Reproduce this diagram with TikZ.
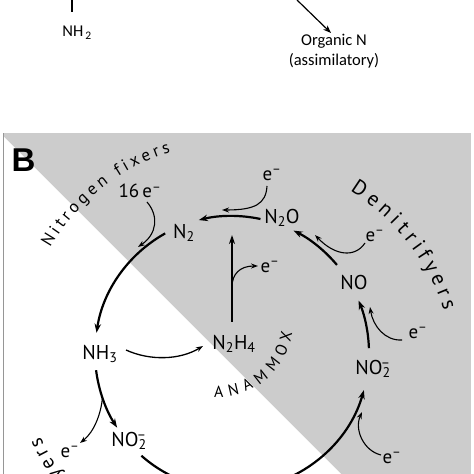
\documentclass[tikz,border=0pt]{standalone}
\usepackage{fontspec}
\setmainfont{PT Sans}
\newfontfamily\topfont{Carlito}
\newfontfamily\bfont{Liberation Sans}
\usetikzlibrary{arrows.meta,decorations.text,calc}
\definecolor{panelgray}{RGB}{204,204,204}
\definecolor{edgegray}{RGB}{150,150,150}
\newcommand{\nomi}{NO\textsubscript{2}\llap{\textsuperscript{–}}}
\newcommand{\elec}{e\textsuperscript{–}}
\begin{document}
\begin{tikzpicture}[x=1pt,y=1pt,
  species/.style={font=\fontsize{20}{22}\selectfont, inner sep=0pt},
  elab/.style={font=\fontsize{19}{21}\selectfont, inner sep=0pt},
  toplab/.style={font=\topfont\fontsize{16.5}{20}\selectfont, inner sep=0pt, align=center},
  cyc/.style={line width=2.2pt, -{Stealth[length=9pt,width=6.5pt]}},
  cycplain/.style={line width=2.2pt},
  eflow/.style={line width=1.1pt, -{Stealth[length=7pt,width=5pt]}},
  midflow/.style={line width=1.3pt, -{Stealth[length=7pt,width=5pt]}},
  vflow/.style={line width=1.8pt, -{Stealth[length=9pt,width=6pt]}}]

\useasboundingbox (0,0) rectangle (474,474);
\clip (0,0) rectangle (474,474);
\fill[white] (0,0) rectangle (474,474);

% ---------- top fragment ----------
\coordinate (nhtop) at (72,474);
\node[toplab] (nh2) at (77,441) {NH\kern2pt\textsubscript{2}};
\draw[line width=1.3pt] (nhtop) -- ($(nhtop)+(0,-12)$);
\node[toplab] (org) at (334,423) {Organic N\\(assimilatory)};
\coordinate (orgsrc) at (297,474);
\coordinate (orgtip) at (331,441);
\draw[line width=1.2pt, -{Stealth[length=8pt,width=6pt]}] (orgsrc) -- (orgtip);

% ---------- panel B background ----------
\fill[panelgray] (3,0) rectangle (471,341);
\fill[white] (3,338) -- (3,0) -- (341,0) -- cycle;
\draw[edgegray, line width=1pt] (3,0) -- (3,341);

\node[font=\bfont\bfseries\fontsize{33}{33}\selectfont, inner sep=0pt] (blabel) at (23.5,314) {B};

\coordinate (C) at (232,121);

% ---------- species ----------
\node[species] (n2)   at (184,241) {N\textsubscript{2}};
\node[species] (n2o)  at (282,256) {N\textsubscript{2}O};
\node[species] (no)   at (354,191) {NO};
\node[species] (no2r) at (373,105) {\nomi};
\node[species] (nh3)  at (100,120) {NH\textsubscript{3}};
\node[species] (n2h4) at (234,130) {N\textsubscript{2}H\textsubscript{4}};
\node[species] (no2l) at (129,33)  {\nomi};

% ---------- electrons ----------
\node[elab] (e16)  at (140,283) {16\,\elec};
\node[elab] (eA)   at (272,299) {\elec};
\node[elab] (eB)   at (270,207) {\elec};
\node[elab] (eC)   at (375,238) {\elec};
\node[elab] (eD)   at (418,141) {\elec};
\node[elab] (eE)   at (392,16)  {\elec};
\node[elab] (eF)   at (70,22)   {\elec};

% ---------- main cycle arcs ----------
\coordinate (a1) at ($(C)+(119.2:137)$);
\draw[cyc] (a1) arc[start angle=119.2, end angle=171.5, radius=137];
\coordinate (a2) at ($(C)+(187.2:137)$);
\draw[cyc] (a2) arc[start angle=187.2, end angle=213, radius=137];
\coordinate (a3) at ($(C)+(228.6:137)$);
\draw[cycplain] (a3) arc[start angle=228.6, end angle=255, radius=137];
\coordinate (a4) at ($(C)+(-75:137)$);
\draw[cyc] (a4) arc[start angle=-75, end angle=-15.7, radius=137];
\coordinate (a5) at ($(C)+(2:137)$);
\draw[cyc] (a5) arc[start angle=2, end angle=22.5, radius=137];
\coordinate (a6) at ($(C)+(40:137)$);
\draw[cyc] (a6) arc[start angle=40, end angle=63.3, radius=137];
\coordinate (a7) at ($(C)+(78:137)$);
\draw[cyc] (a7) arc[start angle=78, end angle=104, radius=137];

% ---------- electron arrows ----------
\coordinate (t16) at (138,227);
\draw[eflow] (147,272) .. controls (159,258) and (157,240) .. (t16);
\coordinate (b2) at ($(C)+(199:137)$);
\coordinate (tF) at (80,31);
\draw[eflow] (b2) .. controls (101,60) and (94,42) .. (tF);
\coordinate (tE) at (362,62);
\draw[eflow] (381,19) .. controls (364,23) and (354,44) .. (tE);
\coordinate (tD) at (370,167);
\draw[eflow] (402,134) .. controls (385,133) and (373,148) .. (tD);
\coordinate (tC) at (315,239);
\draw[eflow] (365,231) .. controls (355,216) and (335,218) .. (tC);
\coordinate (tA) at (222,264);
\draw[eflow] (267,288) .. controls (266,270) and (255,264) .. (tA);

% ---------- anammox ----------
\coordinate (vtop) at (232,239);
\coordinate (vbot) at (232,152);
\draw[vflow] (vbot) -- (vtop);
\coordinate (vb) at (232,187);
\coordinate (tB) at (258,208);
\draw[eflow] (vb) .. controls (232,200) and (240,208) .. (tB);
\coordinate (hs) at (126,124);
\coordinate (ht) at (203,128);
\draw[midflow] (hs) .. controls (150,113) and (180,114) .. (ht);

% ---------- group labels ----------
\path[decorate, decoration={text along path, text={|\fontsize{17}{19}\selectfont|Nitrogen fixers}, text align={fit to path}}]
  ($(C)+(150:210)$) arc[start angle=150, end angle=107, radius=210];
\path[decorate, decoration={text along path, text={|\fontsize{21}{23}\selectfont|Denitrifyers}, text align={fit to path}}]
  ($(232,94)+(58:223)$) arc[start angle=58, end angle=18, radius=223];
\path[decorate, decoration={text along path, text={|\fontsize{20}{22}\selectfont|Nitrifyers}, text align={fit to path}}]
  ($(C)+(234:209)$) arc[start angle=234, end angle=203.5, radius=209];
\path[decorate, decoration={text along path, text={|\fontsize{16}{18}\selectfont|ANAMMOX}, text align={fit to path}}]
  ($(218,152)+(-93:75)$) arc[start angle=-93, end angle=-8, radius=75];
\end{tikzpicture}
\end{document}
